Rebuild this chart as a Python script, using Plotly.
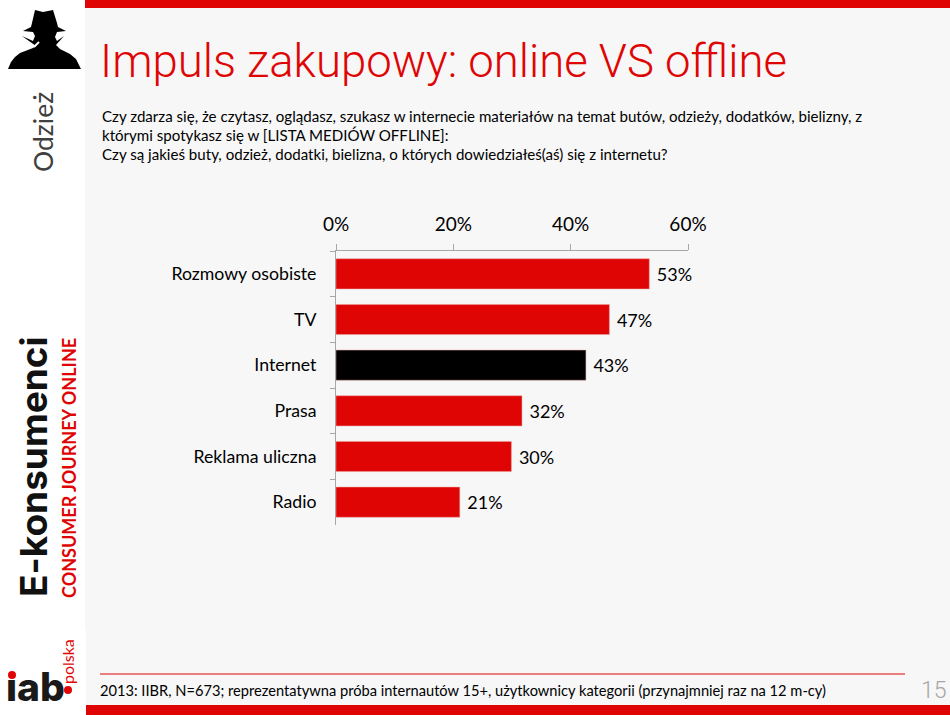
import plotly.graph_objects as go

categories = ['Rozmowy osobiste', 'TV', 'Internet', 'Prasa', 'Reklama uliczna', 'Radio']
values = [53.4, 46.6, 42.6, 31.7, 29.9, 21.1]
bar_colors = ['#DF0505', '#DF0505', '#000000', '#DF0505', '#DF0505', '#DF0505']
tick_vals = [0, 20, 40, 60]

W, H = 950, 715
FONT = 'Lato'
RED = '#DF0505'


def px(x):
    return x / W


def py(y):
    return 1 - y / H


def rect(x0, y0, x1, y1, color):
    return dict(type='rect', xref='paper', yref='paper', x0=px(x0), x1=px(x1), y0=py(y0), y1=py(y1),
                fillcolor=color, line_width=0, layer='below')


def dot(x, y, r, color):
    return dict(type='circle', xref='paper', yref='paper', x0=px(x - r), x1=px(x + r), y0=py(y + r), y1=py(y - r),
                fillcolor=color, line_width=0)


def poly(points, color):
    path = 'M ' + ' L '.join(f'{px(x):.5f} {py(y):.5f}' for x, y in points) + ' Z'
    return dict(type='path', xref='paper', yref='paper', path=path, fillcolor=color, line_width=0)


def note(x, y, text, size, color='#000000', anchor='left', angle=0, family=FONT, weight=None):
    return dict(xref='paper', yref='paper', x=px(x), y=py(y), text=text, showarrow=False,
                xanchor=anchor, yanchor='middle', textangle=angle,
                font=dict(family=family, size=size, color=color, weight=weight))


fig = go.Figure(go.Bar(
    x=values, y=categories, orientation='h',
    marker=dict(color=bar_colors, line=dict(color='#E8A0A0', width=0.5)),
    width=0.66,
    text=[f'\u2005{v:.0f}%' for v in values], textposition='outside', cliponaxis=False,
    textfont=dict(family=FONT, size=18, color='#000000'),
))

# spy icon, rough outline
spy = [(8, 69), (11, 62), (15, 57), (20, 53), (33, 48), (36, 46), (22, 36), (33, 41), (35, 36), (33, 32),
       (23, 31), (31, 27), (32, 23), (35, 10), (43, 12), (53, 10), (57, 23), (58, 27), (66, 31), (57, 32),
       (55, 37), (57, 41), (64, 36), (56, 45), (60, 49), (70, 54), (76, 59), (81, 69)]

shapes = [
    rect(85, 0, 950, 630, '#F7F7F7'),
    rect(86, 630, 950, 715, '#F7F7F7'),
    rect(85, 0, 950, 8, RED),
    rect(86, 705, 950, 715, RED),
    poly(spy, '#000000'),
    dict(type='line', xref='paper', yref='paper', x0=px(34), x1=px(39), y0=py(47), y1=py(42),
         line=dict(color='#FFFFFF', width=2)),
    dict(type='line', xref='paper', yref='paper', x0=px(100), x1=px(905), y0=py(674), y1=py(674),
         line=dict(color=RED, width=1)),
    dot(12, 675, 4, RED),
    dot(68, 690, 4, RED),
]

annotations = [
    note(98, 62, 'Impuls zakupowy: online VS offline', 45.5, RED, family='Roboto', weight=300),
    note(100, 116, 'Czy zdarza się, że czytasz, oglądasz, szukasz w internecie materiałów na temat butów, odzieży, dodatków, bielizny, z', 15.1),
    note(100, 135, 'którymi spotykasz się w [LISTA MEDIÓW OFFLINE]:', 15.1),
    note(100, 154, 'Czy są jakieś buty, odzież, dodatki, bielizna, o których dowiedziałeś(aś) się z internetu?', 15.1),
    note(98, 690, '2013: IIBR, N=673; reprezentatywna próba internautów 15+, użytkownicy kategorii (przynajmniej raz na 12 m-cy)', 14.65),
    note(934, 690, '15', 23, '#A6A6A6', anchor='center', family='Roboto', weight=300),
    note(43, 132, 'Odzież', 26.5, '#404040', anchor='center', angle=-90),
    note(33, 467, 'E-konsumenci', 37, '#111111', anchor='center', angle=-90, family='Inter', weight=700),
    note(69, 468, 'CONSUMER JOURNEY ONLINE', 18, RED, anchor='center', angle=-90, weight=700),
    note(67, 662, 'polska', 16, RED, anchor='center', angle=-90),
    note(35, 686, 'ıab', 39, '#1A1A1A', anchor='center', family='Inter', weight=800),
]

fig.update_layout(
    width=W, height=H, autosize=False,
    margin=dict(l=0, r=0, t=0, b=0, autoexpand=False),
    paper_bgcolor='#FFFFFF', plot_bgcolor='rgba(0,0,0,0)',
    showlegend=False, shapes=shapes, annotations=annotations,
    xaxis=dict(
        domain=[px(336), px(688)], range=[0, 60], side='top', anchor='y', automargin=False,
        tickvals=tick_vals, ticktext=[f'{t}%' for t in tick_vals],
        ticks='outside', ticklen=6, tickcolor='#A6A6A6', tickwidth=1,
        showline=True, linecolor='#A6A6A6', linewidth=1, showgrid=False, zeroline=False,
        ticklabelstandoff=5,
        tickfont=dict(family=FONT, size=19, color='#000000'),
    ),
    yaxis=dict(
        domain=[py(525), py(251)], autorange='reversed', anchor='x', automargin=False,
        ticks='outside', ticklen=5, tickcolor='#A6A6A6', tickwidth=1, tickson='boundaries',
        showline=True, linecolor='#A6A6A6', linewidth=1, showgrid=False, zeroline=False,
        ticklabelstandoff=15,
        tickfont=dict(family=FONT, size=17.7, color='#000000'),
    ),
)

# the slide starts at the very corner of the page
fig.write_html('out.html', config={'displayModeBar': False}, post_script="document.body.style.margin='0';")
